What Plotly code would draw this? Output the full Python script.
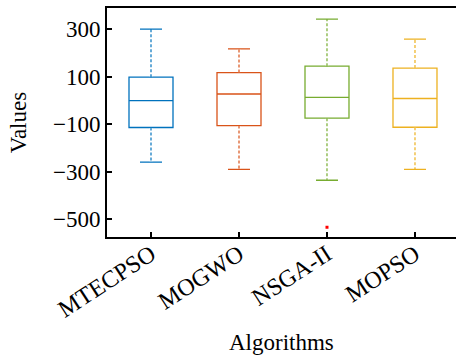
import plotly.graph_objects as go

algorithms = ["MTECPSO", "MOGWO", "NSGA-II", "MOPSO"]
upper_whisker = [301, 218, 343, 259]
q3_values = [99, 118, 145, 137]
medians = [0, 28, 14, 9]
q1_values = [-113, -105, -74, -112]
lower_whisker = [-259, -289, -335, -289]
outlier_algorithms = ["NSGA-II"]
outlier_values = [-533]
colors = ["#0072BD", "#D95319", "#77AC30", "#EDB120"]

ytick_vals = [-500, -300, -100, 100, 300]
ytick_text = ["\u2212500", "\u2212300", "\u2212100", "100", "300"]

FONT = "Liberation Serif"
FS = 23
fig = go.Figure()

for i, name in enumerate(algorithms):
    fig.add_trace(go.Box(
        x=[name], q1=[q1_values[i]], median=[medians[i]], q3=[q3_values[i]],
        lowerfence=[lower_whisker[i]], upperfence=[upper_whisker[i]],
        line=dict(color=colors[i], width=1.3), fillcolor="rgba(0,0,0,0)",
        width=0.5, whiskerwidth=0.5, boxpoints=False, showlegend=False,
    ))

for i, name in enumerate(algorithms):
    xs = [name, name, None, name, name]
    ys = [q3_values[i] + 2, upper_whisker[i] - 3, None, q1_values[i] - 2, lower_whisker[i] + 3]
    fig.add_trace(go.Scatter(x=xs, y=ys, mode="lines", line=dict(color="white", width=2.5),
                             showlegend=False, hoverinfo="skip"))
    ys2 = [q3_values[i], upper_whisker[i], None, q1_values[i], lower_whisker[i]]
    fig.add_trace(go.Scatter(x=xs, y=ys2, mode="lines",
                             line=dict(color=colors[i], width=1.2, dash="3px,2px"),
                             showlegend=False, hoverinfo="skip"))

fig.add_trace(go.Scatter(x=outlier_algorithms, y=outlier_values, mode="markers",
                         marker=dict(color="red", size=3, symbol="square"),
                         showlegend=False))

fig.update_layout(
    width=456, height=361,
    margin=dict(l=107, r=0, t=8, b=124),
    plot_bgcolor="white", paper_bgcolor="white",
    font=dict(family=FONT, size=FS, color="black"),
    boxmode="overlay",
    xaxis=dict(
        type="category", categoryorder="array", categoryarray=algorithms,
        range=[-0.5, 3.466], showline=True, linecolor="black", linewidth=2,
        mirror=True, ticks="inside", ticklen=5, tickwidth=2, tickcolor="black",
        tickangle=-33, ticklabelstandoff=-8,
        showgrid=False, zeroline=False, automargin=False,
        tickfont=dict(family=FONT, size=24),
    ),
    yaxis=dict(
        range=[-574, 390], tickvals=ytick_vals, ticktext=ytick_text,
        showline=True, linecolor="black", linewidth=2, mirror=False,
        ticks="inside", ticklen=5, tickwidth=2, tickcolor="black",
        showgrid=False, zeroline=False, automargin=False,
        tickfont=dict(family=FONT, size=FS),
        title=dict(text="Values", font=dict(family=FONT, size=FS), standoff=20),
    ),
    annotations=[dict(text="Algorithms", xref="paper", yref="paper", x=0.5, y=-0.46,
                      xanchor="center", yanchor="middle", showarrow=False,
                      font=dict(family=FONT, size=FS))],
)

fig.write_html("out.html", config={"displayModeBar": False},
               post_script="document.body.style.margin='0';document.body.style.overflow='hidden';")
